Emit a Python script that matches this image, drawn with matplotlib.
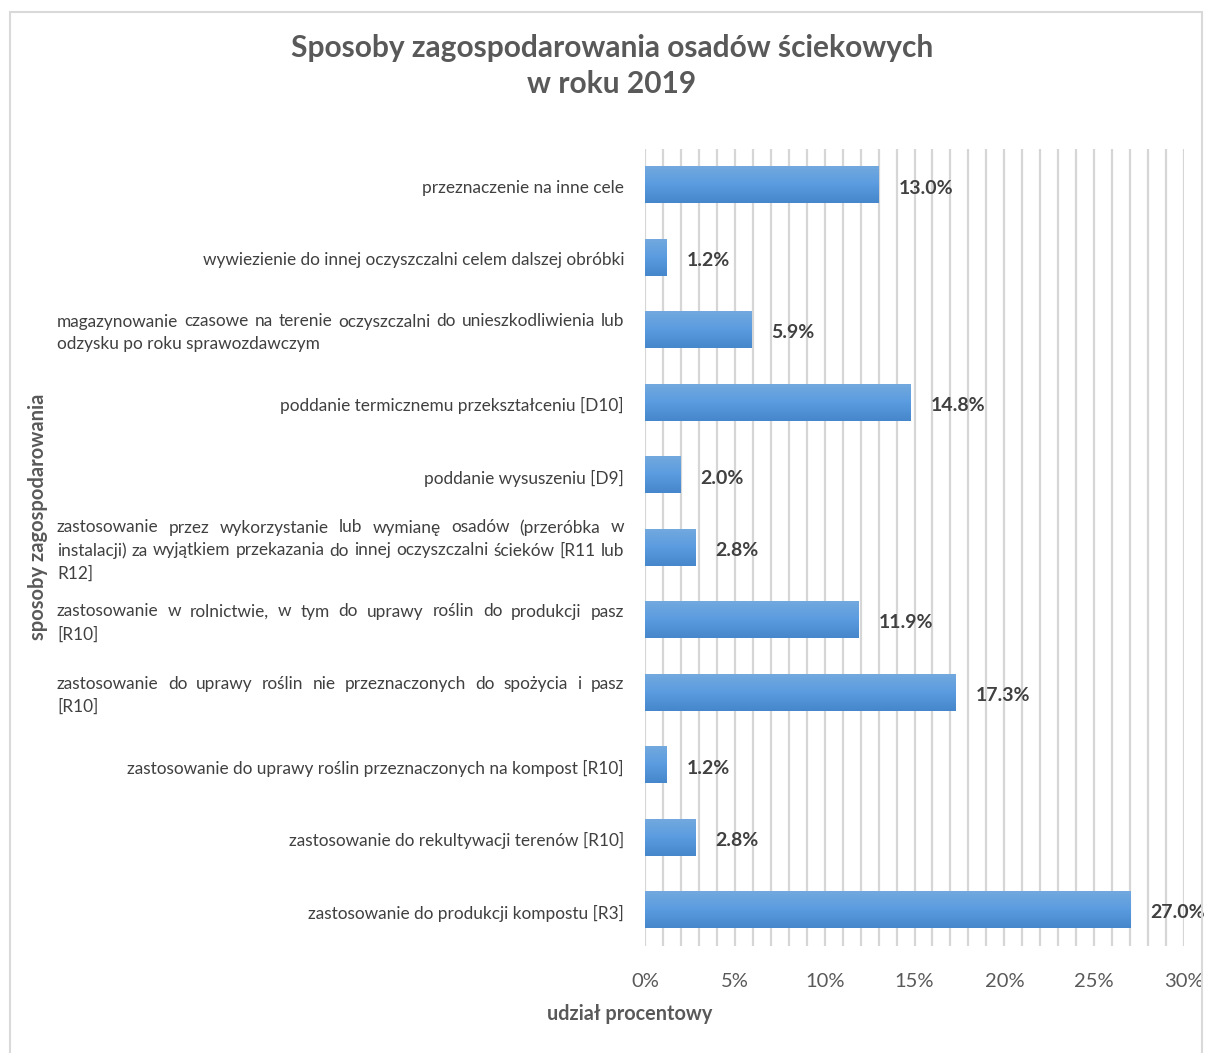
import numpy as np
import matplotlib
matplotlib.use("Agg")
import matplotlib.pyplot as plt
import matplotlib.transforms as mtransforms
from matplotlib.colors import LinearSegmentedColormap
from matplotlib.patches import Rectangle

# data (top to bottom as shown)
categories = [
    ["przeznaczenie na inne cele"],
    ["wywiezienie do innej oczyszczalni celem dalszej obróbki"],
    ["magazynowanie czasowe na terenie oczyszczalni do unieszkodliwienia lub",
     "odzysku po roku sprawozdawczym"],
    ["poddanie termicznemu przekształceniu [D10]"],
    ["poddanie wysuszeniu [D9]"],
    ["zastosowanie przez wykorzystanie lub wymianę osadów (przeróbka w",
     "instalacji) za wyjątkiem przekazania do innej oczyszczalni ścieków [R11 lub",
     "R12]"],
    ["zastosowanie w rolnictwie, w tym do uprawy roślin do produkcji pasz",
     "[R10]"],
    ["zastosowanie do uprawy roślin nie przeznaczonych do spożycia i pasz",
     "[R10]"],
    ["zastosowanie do uprawy roślin przeznaczonych na kompost [R10]"],
    ["zastosowanie do rekultywacji terenów [R10]"],
    ["zastosowanie do produkcji kompostu [R3]"],
]
values = [13.0, 1.2, 5.9, 14.8, 2.0, 2.8, 11.9, 17.3, 1.2, 2.8, 27.0]
xticks = [0, 5, 10, 15, 20, 25, 30]

title = "Sposoby zagospodarowania osadów ściekowych\nw roku 2019"
xlabel = "udział procentowy"
ylabel = "sposoby zagospodarowania"

plt.rcParams["font.family"] = ["Lato", "DejaVu Sans"]

W, H = 1205, 1053
fig = plt.figure(figsize=(W / 100, H / 100), dpi=100)
ax = fig.add_axes([645 / W, 1 - 946.25 / H, (1184 - 645) / W, (946.25 - 148.75) / H])

# border round the chart
fig.patches.append(Rectangle((10 / W, -0.01), 1192 / W, 1.01 - 12 / H,
                             transform=fig.transFigure, fill=False,
                             edgecolor="#d9d9d9", linewidth=1.5))

grad = LinearSegmentedColormap.from_list("bar", ["#72a9de", "#5a9be0", "#4686cb"])
g = np.linspace(0, 1, 64).reshape(-1, 1)
bh = 0.5
down = mtransforms.offset_copy(ax.transData, fig, y=-3, units="dots")
for i, v in enumerate(values):
    ax.imshow(g, extent=[0, v, i + bh / 2, i - bh / 2], aspect="auto",
              cmap=grad, zorder=3, interpolation="bilinear")
    ax.text(v + 1.1, i, f"{v:.1f}%", va="center", ha="left", fontsize=14,
            fontweight="bold", color="#404040", zorder=4, transform=down)

ax.set_xlim(0, 30)
ax.set_ylim(len(values) - 0.5, -0.5)
ax.set_xticks(xticks)
ax.set_xticklabels([f"{t}%" for t in xticks])
ax.set_xticks(np.arange(0, 31, 1), minor=True)
ax.grid(True, axis="x", which="both", color="#d6d6d6", linewidth=1.6, zorder=0)
ax.set_axisbelow(True)
ax.set_yticks([])
ax.tick_params(axis="x", which="both", length=0, pad=19, labelsize=14.5,
               labelcolor="#595959")
for s in ax.spines.values():
    s.set_visible(False)

# category labels, wrapped ones fully justified as in the original
fig.canvas.draw()
renderer = fig.canvas.get_renderer()
trans = mtransforms.blended_transform_factory(fig.transFigure, ax.transData)
lsize = 12.4
lcolor = "#404040"
x_left, x_right = 57, 624
line_h = 23


def width_px(s):
    t = fig.text(0, 0, s, fontsize=lsize)
    w = t.get_window_extent(renderer).width
    t.remove()
    return w


for i, lines in enumerate(categories):
    n = len(lines)
    for k, line in enumerate(lines):
        dy = ((n - 1) / 2 - k) * line_h - 3
        tr = mtransforms.offset_copy(trans, fig, y=dy, units="dots")
        if n == 1:
            fig.text(x_right / W, i, line, transform=tr, ha="right", va="center",
                     fontsize=lsize, color=lcolor)
        elif k == n - 1:
            fig.text(x_left / W, i, line, transform=tr, ha="left", va="center",
                     fontsize=lsize, color=lcolor)
        else:
            words = line.split(" ")
            ws = [width_px(w) for w in words]
            gap = (x_right - x_left - sum(ws)) / (len(words) - 1)
            x = x_left
            for w, wd in zip(words, ws):
                fig.text(x / W, i, w, transform=tr, ha="left", va="center",
                         fontsize=lsize, color=lcolor)
                x += wd + gap

fig.text(612 / W, 1 - 66 / H, title, ha="center", va="center", fontsize=21.5,
         fontweight="bold", color="#595959", linespacing=1.35)
fig.text(630 / W, 1 - 1014 / H, xlabel, ha="center", va="center", fontsize=14.3,
         fontweight="bold", color="#595959")
fig.text(38 / W, 1 - 517 / H, ylabel, ha="center", va="center", rotation=90,
         fontsize=14.5, fontweight="bold", color="#595959")

fig.savefig("out.png", dpi=100, facecolor="white")
